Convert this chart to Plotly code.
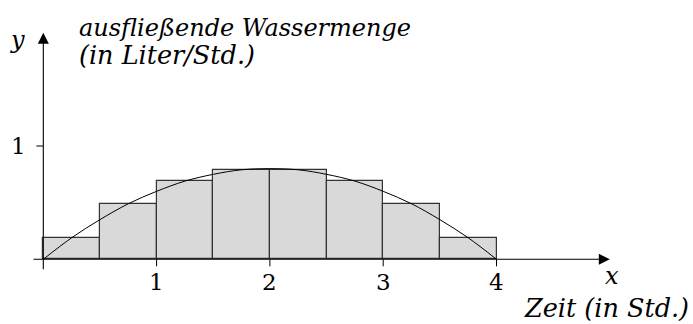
import plotly.graph_objects as go

# --- data ---
bar_left = [0, 0.5, 1.0, 1.5, 2.0, 2.5, 3.0, 3.5]
bar_width = 0.5
bar_heights = [0.19, 0.49, 0.69, 0.79, 0.79, 0.69, 0.49, 0.19]

curve_x = [0, 0.25, 0.5, 0.75, 1.0, 1.25, 1.5, 1.75, 2.0, 2.25, 2.5, 2.75, 3.0, 3.25, 3.5, 3.75, 4.0]
curve_y = [0, 0.19, 0.35, 0.49, 0.60, 0.69, 0.75, 0.79, 0.80, 0.79, 0.75, 0.69, 0.60, 0.49, 0.35, 0.19, 0]

x_ticks = [1, 2, 3, 4]
y_ticks = [1]

W, H = 693, 324
X0PX, Y0PX, UNIT = 43.3, 259.3, 113.3
xr = [-X0PX / UNIT, (W - X0PX) / UNIT]
yr = [(Y0PX - H) / UNIT, Y0PX / UNIT]

FONT = "DejaVu Serif"

fig = go.Figure()
fig.add_trace(go.Bar(
    x=[l + bar_width / 2 for l in bar_left], y=bar_heights, width=bar_width,
    marker=dict(color="#d9d9d9", line=dict(color="#333333", width=1.2)),
    hoverinfo="skip", showlegend=False))
fig.add_trace(go.Scatter(
    x=curve_x, y=curve_y, mode="lines", line=dict(color="black", width=1, shape="spline"),
    hoverinfo="skip", showlegend=False))

shapes = []
tick_len = 7 / UNIT
for t in x_ticks:
    shapes.append(dict(type="line", xref="x", yref="y", x0=t, x1=t, y0=0, y1=-tick_len,
                       line=dict(color="black", width=1)))
for t in y_ticks:
    shapes.append(dict(type="line", xref="x", yref="y", x0=0, x1=-tick_len, y0=t, y1=t,
                       line=dict(color="black", width=1)))


def px2x(p):
    return (p - X0PX) / UNIT


def px2y(p):
    return (Y0PX - p) / UNIT


ann = []
# axes with arrows
ann.append(dict(x=5.0, y=0, ax=-0.1, ay=0, xref="x", yref="y", axref="x", ayref="y",
                showarrow=True, arrowhead=2, arrowsize=2.0, arrowwidth=1.1, arrowcolor="black", text=""))
ann.append(dict(x=0, y=2.0, ax=0, ay=-0.1, xref="x", yref="y", axref="x", ayref="y",
                showarrow=True, arrowhead=2, arrowsize=2.0, arrowwidth=1.1, arrowcolor="black", text=""))

num_font = dict(family=FONT, size=23, color="black")
for t in x_ticks:
    ann.append(dict(x=t, y=px2y(282), xref="x", yref="y", text=str(t), showarrow=False,
                    font=num_font))
for t in y_ticks:
    ann.append(dict(x=px2x(28), y=t, xref="x", yref="y", text=str(t), showarrow=False,
                    xanchor="right", font=num_font))

ital = dict(family=FONT, size=24, color="black")
ital2 = dict(family=FONT, size=25.5, color="black")
ann.append(dict(x=px2x(17), y=px2y(40), xref="x", yref="y", text="<i>y</i>", showarrow=False,
                font=ital))
ann.append(dict(x=px2x(612), y=px2y(276), xref="x", yref="y", text="<i>x</i>", showarrow=False,
                font=ital))
ann.append(dict(x=px2x(77), y=px2y(28), xref="x", yref="y", xanchor="left",
                text="<i>ausfließende Wassermenge</i>", showarrow=False, font=ital))
ann.append(dict(x=px2x(77), y=px2y(55), xref="x", yref="y", xanchor="left",
                text="<i>(in Liter/Std.)</i>", showarrow=False, font=ital2))
ann.append(dict(x=px2x(691), y=px2y(308), xref="x", yref="y", xanchor="right",
                text="<i>Zeit (in Std.)</i>", showarrow=False, font=ital2))

fig.update_layout(
    width=W, height=H, margin=dict(l=0, r=0, t=0, b=0),
    paper_bgcolor="white", plot_bgcolor="white",
    xaxis=dict(range=xr, visible=False, fixedrange=True),
    yaxis=dict(range=yr, visible=False, fixedrange=True),
    shapes=shapes, annotations=ann, bargap=0)

fig.write_html("out.html", config={"displayModeBar": False},
               post_script="document.body.style.margin='0';document.body.style.overflow='hidden';")
